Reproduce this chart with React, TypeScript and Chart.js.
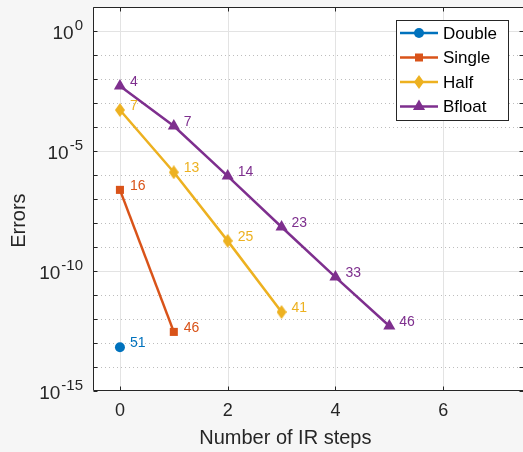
import React, { useEffect, useRef } from 'react';
import { Chart, registerables } from 'chart.js';

Chart.register(...registerables);

const seriesNames = ['Double', 'Single', 'Half', 'Bfloat'];
const seriesColors = ['#0072BD', '#D95319', '#EDB120', '#7E2F8E'];

const doubleSteps = [0];
const doubleErrors = [6.7e-14];
const doubleCounts = ['51'];

const singleSteps = [0, 1];
const singleErrors = [2.4e-7, 2.9e-13];
const singleCounts = ['16', '46'];

const halfSteps = [0, 1, 2, 3];
const halfErrors = [5.1e-4, 1.3e-6, 1.8e-9, 1.95e-12];
const halfCounts = ['7', '13', '25', '41'];

const bfloatSteps = [0, 1, 2, 3, 4, 5];
const bfloatErrors = [5.1e-3, 1.1e-4, 9.0e-7, 6.8e-9, 5.6e-11, 5.1e-13];
const bfloatCounts = ['4', '7', '14', '23', '33', '46'];

const xTickValues = [0, 2, 4, 6];
const yDecadeExponents = [-15, -14, -13, -12, -11, -10, -9, -8, -7, -6, -5, -4, -3, -2, -1, 0, 1];
const yLabelExponents = [0, -5, -10, -15];

const xTitle = 'Number of IR steps';
const yTitle = 'Errors';

const FONT = '"Liberation Sans", Arial, Helvetica, sans-serif';
const AXIS_COLOR = '#262626';

function makeDiamond(color: string, w: number, h: number) {
  const c = document.createElement('canvas');
  c.width = w;
  c.height = h;
  const g = c.getContext('2d')!;
  g.fillStyle = color;
  g.beginPath();
  g.moveTo(w / 2, 0);
  g.lineTo(w, h / 2);
  g.lineTo(w / 2, h);
  g.lineTo(0, h / 2);
  g.closePath();
  g.fill();
  return c;
}

function drawMarker(ctx: CanvasRenderingContext2D, style: string, x: number, y: number, color: string, diamond: HTMLCanvasElement) {
  ctx.save();
  ctx.fillStyle = color;
  ctx.beginPath();
  if (style === 'circle') {
    ctx.arc(x, y, 5, 0, Math.PI * 2);
    ctx.fill();
  } else if (style === 'rect') {
    ctx.rect(x - 4, y - 4, 8, 8);
    ctx.fill();
  } else if (style === 'diamond') {
    ctx.drawImage(diamond, x - diamond.width / 2, y - diamond.height / 2);
  } else {
    const r = 7;
    ctx.moveTo(x, y - r);
    ctx.lineTo(x + r * Math.sin((2 * Math.PI) / 3), y - r * Math.cos((2 * Math.PI) / 3));
    ctx.lineTo(x + r * Math.sin((4 * Math.PI) / 3), y - r * Math.cos((4 * Math.PI) / 3));
    ctx.closePath();
    ctx.fill();
  }
  ctx.restore();
}

export default function App() {
  const canvasRef = useRef<HTMLCanvasElement | null>(null);

  useEffect(() => {
    document.body.style.margin = '0';
    const canvas = canvasRef.current;
    if (!canvas) return;

    const diamond = makeDiamond(seriesColors[2], 10, 14);
    const markerStyles = ['circle', 'rect', 'diamond', 'triangle'];
    const stepsList = [doubleSteps, singleSteps, halfSteps, bfloatSteps];
    const errorsList = [doubleErrors, singleErrors, halfErrors, bfloatErrors];
    const countsList = [doubleCounts, singleCounts, halfCounts, bfloatCounts];

    const datasets = seriesNames.map((name, i) => ({
      label: name,
      data: stepsList[i].map((s, j) => ({ x: s, y: errorsList[i][j] })),
      borderColor: seriesColors[i],
      backgroundColor: seriesColors[i],
      borderWidth: 2.5,
      pointStyle: i === 2 ? diamond : markerStyles[i],
      pointRadius: i === 0 ? 5 : i === 1 ? 5.7 : i === 3 ? 7 : 6,
      pointHoverRadius: i === 0 ? 5 : i === 1 ? 5.7 : i === 3 ? 7 : 6,
      pointBorderWidth: 0,
      tension: 0,
      fill: false,
    }));

    const decorPlugin = {
      id: 'decor',
      beforeDraw(chart: any) {
        const { ctx, chartArea: a } = chart;
        ctx.save();
        ctx.fillStyle = '#f6f6f6';
        ctx.fillRect(0, 0, chart.width, chart.height);
        ctx.fillStyle = '#ffffff';
        ctx.fillRect(a.left, a.top, a.right - a.left, a.bottom - a.top);
        ctx.restore();
      },
      beforeDatasetsDraw(chart: any) {
        const { ctx, chartArea: a, scales } = chart;
        const xs = scales.x;
        const ys = scales.y;
        ctx.save();
        ctx.lineWidth = 1;
        yDecadeExponents.forEach((e) => {
          if (e === 1 || e === -15) return;
          const py = Math.round(ys.getPixelForValue(Math.pow(10, e))) + 0.5;
          ctx.beginPath();
          if (e % 5 === 0) {
            ctx.setLineDash([]);
            ctx.strokeStyle = '#e3e3e3';
          } else {
            ctx.setLineDash([1, 3]);
            ctx.strokeStyle = '#bdbdbd';
          }
          ctx.moveTo(a.left, py);
          ctx.lineTo(a.right, py);
          ctx.stroke();
        });
        ctx.setLineDash([]);
        ctx.strokeStyle = '#e3e3e3';
        xTickValues.forEach((v) => {
          const px = Math.round(xs.getPixelForValue(v)) + 0.5;
          ctx.beginPath();
          ctx.moveTo(px, a.top);
          ctx.lineTo(px, a.bottom);
          ctx.stroke();
        });
        ctx.restore();
      },
      afterDatasetsDraw(chart: any) {
        const { ctx, chartArea: a, scales } = chart;
        const xs = scales.x;
        const ys = scales.y;
        ctx.save();
        ctx.font = `14px ${FONT}`;
        ctx.textAlign = 'left';
        ctx.textBaseline = 'middle';
        seriesNames.forEach((_, i) => {
          ctx.fillStyle = seriesColors[i];
          stepsList[i].forEach((s, j) => {
            const px = xs.getPixelForValue(s);
            const py = ys.getPixelForValue(errorsList[i][j]);
            ctx.fillText(countsList[i][j], px + 10, py - 4);
          });
        });

        ctx.strokeStyle = AXIS_COLOR;
        ctx.lineWidth = 1;
        const L = Math.round(a.left) + 0.5;
        const B = Math.round(a.bottom) - 0.5;
        const T = Math.round(a.top) + 0.5;
        const R = Math.round(a.right) - 0.5;
        ctx.beginPath();
        ctx.moveTo(a.right + 2, T);
        ctx.lineTo(L, T);
        ctx.lineTo(L, B);
        ctx.lineTo(a.right + 2, B);
        ctx.stroke();
        ctx.beginPath();
        yDecadeExponents.forEach((e) => {
          const py = Math.round(ys.getPixelForValue(Math.pow(10, e))) + 0.5;
          ctx.moveTo(L, py);
          ctx.lineTo(L + 4, py);
          ctx.moveTo(R, py);
          ctx.lineTo(R - 4, py);
        });
        xTickValues.forEach((v) => {
          const px = Math.round(xs.getPixelForValue(v)) + 0.5;
          ctx.moveTo(px, B);
          ctx.lineTo(px, B - 4);
          ctx.moveTo(px, T);
          ctx.lineTo(px, T + 4);
        });
        ctx.stroke();

        ctx.fillStyle = AXIS_COLOR;
        ctx.font = `18px ${FONT}`;
        ctx.textAlign = 'center';
        ctx.textBaseline = 'middle';
        xTickValues.forEach((v) => {
          ctx.fillText(String(v), xs.getPixelForValue(v), a.bottom + 20);
        });

        yLabelExponents.forEach((e) => {
          const py = ys.getPixelForValue(Math.pow(10, e));
          const right = a.left - 10;
          ctx.font = `15px ${FONT}`;
          ctx.textAlign = 'right';
          ctx.textBaseline = 'middle';
          const expText = String(e);
          const ew = ctx.measureText(expText).width;
          ctx.fillText(expText, right, py - 5);
          ctx.font = `19px ${FONT}`;
          ctx.fillText('10', right - ew - 1, py + 3);
        });

        ctx.font = `20px ${FONT}`;
        ctx.textAlign = 'center';
        ctx.textBaseline = 'middle';
        ctx.fillText(xTitle, xs.getPixelForValue(3.07), a.bottom + 47);
        ctx.save();
        ctx.translate(19, ys.getPixelForValue(Math.pow(10, -7.9)));
        ctx.rotate(-Math.PI / 2);
        ctx.fillText(yTitle, 0, 0);
        ctx.restore();

        const lx = 396.5;
        const ly = 20.5;
        const lw = 112;
        const lh = 100;
        ctx.fillStyle = '#ffffff';
        ctx.fillRect(lx, ly, lw, lh);
        ctx.strokeStyle = AXIS_COLOR;
        ctx.lineWidth = 1;
        ctx.strokeRect(lx, ly, lw, lh);
        seriesNames.forEach((name, i) => {
          const ry = 33 + i * 24.5;
          ctx.strokeStyle = seriesColors[i];
          ctx.lineWidth = 2.5;
          ctx.beginPath();
          ctx.moveTo(400, ry);
          ctx.lineTo(438, ry);
          ctx.stroke();
          drawMarker(ctx, markerStyles[i], 419, ry, seriesColors[i], diamond);
          ctx.fillStyle = '#000000';
          ctx.font = `17px ${FONT}`;
          ctx.textAlign = 'left';
          ctx.textBaseline = 'middle';
          ctx.fillText(name, 443, ry + 1);
        });
        ctx.restore();
      },
    };

    const chart = new Chart(canvas, {
      type: 'line',
      data: { datasets: datasets as any },
      options: {
        animation: false,
        responsive: false,
        maintainAspectRatio: false,
        devicePixelRatio: 1,
        layout: { autoPadding: false, padding: { top: 7, left: 0, right: 0, bottom: 0 } },
        plugins: {
          legend: { display: false },
          tooltip: { enabled: false },
        },
        events: [],
        scales: {
          x: {
            type: 'linear',
            min: -0.5,
            max: 7.5,
            grid: { display: false },
            border: { display: false },
            ticks: { display: false },
            afterBuildTicks: (s: any) => {
              s.ticks = xTickValues.map((v) => ({ value: v }));
            },
            afterFit: (s: any) => {
              s.height = 61;
            },
          },
          y: {
            type: 'logarithmic',
            min: 1e-15,
            max: 10,
            grid: { display: false },
            border: { display: false },
            ticks: { display: false },
            afterBuildTicks: (s: any) => {
              s.ticks = yDecadeExponents.map((e) => ({ value: Math.pow(10, e) }));
            },
            afterFit: (s: any) => {
              s.width = 93;
            },
          },
        },
      },
      plugins: [decorPlugin],
    });

    return () => {
      chart.destroy();
    };
  }, []);

  return (
    <div style={{ position: 'fixed', left: 0, top: 0, width: 523, height: 452, overflow: 'hidden' }}>
      <canvas ref={canvasRef} width={524} height={452} style={{ display: 'block', width: 524, height: 452 }} />
    </div>
  );
}
